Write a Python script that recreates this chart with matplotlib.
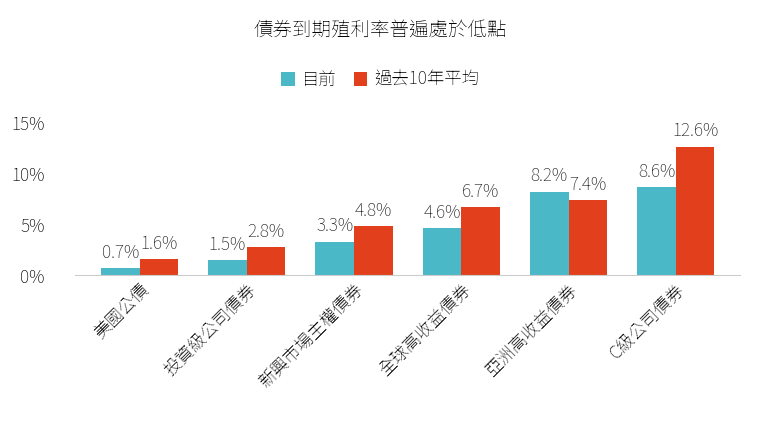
import matplotlib
matplotlib.use("Agg")
import matplotlib.pyplot as plt
from matplotlib import font_manager
import numpy as np

cjk = None
for f in font_manager.findSystemFonts():
    n = f.lower()
    if "cjk" in n or "notosanstc" in n or "notosanssc" in n:
        try:
            font_manager.fontManager.addfont(f)
            name = font_manager.FontProperties(fname=f).get_name()
            if cjk is None or "TC" in name:
                cjk = name
        except Exception:
            pass
plt.rcParams["font.family"] = "sans-serif"
plt.rcParams["font.sans-serif"] = [cjk or "Noto Sans CJK TC", "Noto Sans CJK TC", "Noto Sans CJK SC", "Noto Sans CJK JP", "DejaVu Sans"]

categories = ["美國公債", "投資級公司債券", "新興市場主權債券", "全球高收益債券", "亞洲高收益債券", "C級公司債券"]
current = [0.7, 1.5, 3.3, 4.6, 8.2, 8.6]
avg10 = [1.6, 2.8, 4.8, 6.7, 7.4, 12.6]
yticks = [0, 5, 10, 15]

fig = plt.figure(figsize=(7.6, 4.3), dpi=100)
ax = fig.add_axes([0.099, 0.36, 0.875, 0.356])
x = np.arange(len(categories))
w = 0.36
b1 = ax.bar(x - w/2, current, w, color="#4BB8C8", label="目前")
b2 = ax.bar(x + w/2, avg10, w, color="#E2401C", label="過去10年平均")
for bars, vals in ((b1, current), (b2, avg10)):
    for r, v in zip(bars, vals):
        ax.text(r.get_x() + r.get_width()/2, v + 0.6, f"{v}%", ha="center", va="bottom", fontsize=12.5, color="#222")
ax.set_ylim(0, 15)
ax.set_xlim(-0.6, len(categories) - 0.4)
ax.set_yticks(yticks)
ax.set_yticklabels([f"{t}%" for t in yticks], fontsize=12.5)
ax.set_xticks(x)
ax.set_xticklabels(categories, rotation=45, ha="right", rotation_mode="anchor", fontsize=12.5)
for s in ["top", "right", "left"]:
    ax.spines[s].set_visible(False)
ax.spines["bottom"].set_color("#cccccc")
ax.tick_params(length=0)
ax.tick_params(axis="y", pad=22)
fig.text(0.5, 0.915, "債券到期殖利率普遍處於低點", ha="center", fontsize=14, fontweight="bold")
fig.legend(handles=[b1, b2], loc="center", bbox_to_anchor=(0.5, 0.815), ncol=2, frameon=False,
           fontsize=12.5, handlelength=0.8, handleheight=0.8, columnspacing=1.0, handletextpad=0.4)
fig.savefig("out.png", dpi=100)
